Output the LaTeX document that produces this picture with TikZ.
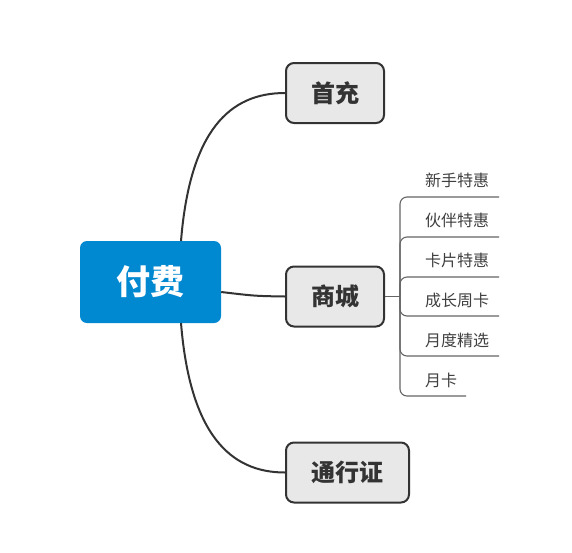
\documentclass[tikz,border=0pt]{standalone}
\usepackage{fontspec}
\newfontfamily\cjk{Noto Sans CJK SC}
\definecolor{rootblue}{RGB}{0,136,209}
\definecolor{nodegray}{RGB}{232,232,232}
\definecolor{edgedark}{RGB}{51,51,51}
\definecolor{subgray}{RGB}{64,64,64}
\definecolor{linegray}{RGB}{100,100,100}
\tikzset{
  rootbox/.style={fill=rootblue, rounded corners=7pt, minimum width=141pt, minimum height=82pt, text=white, font=\cjk\bfseries\fontsize{34}{38}\selectfont},
  mainbox/.style={fill=nodegray, draw=edgedark, line width=2pt, rounded corners=8pt, minimum height=60pt, text=edgedark, font=\cjk\bfseries\fontsize{24}{27}\selectfont},
  conn/.style={draw=edgedark, line width=2pt},
  subtext/.style={anchor=west, inner sep=0pt, text=subgray, font=\cjk\fontsize{16}{19}\selectfont},
  subline/.style={draw=linegray, line width=1.1pt, rounded corners=7pt},
}
\begin{document}
\begin{tikzpicture}[x=1pt,y=-1pt]
\useasboundingbox (0,0) rectangle (572,552);
\node[rootbox] (root) at (150.5,282) {付费};
\node[mainbox, minimum width=98pt] (first) at (335,93) {首充};
\node[mainbox, minimum width=98pt] (mall) at (335,296.5) {商城};
\node[mainbox, minimum width=123pt] (pass) at (347.5,472.5) {通行证};
% connectors
\coordinate (rt) at (181,241);
\coordinate (rb) at (181,323);
\draw[conn] (rt) .. controls (190,130) and (230,93) .. (first.west);
\draw[conn] (rb) .. controls (190,434) and (230,472.5) .. (pass.west);
\draw[conn] (root.east |- 0,292) .. controls (255,296) .. (mall.west);
% sub branches
\coordinate (j) at (400,296.5);
\draw[subline] (mall.east) -- (j);
\node[subtext] (s1) at (425,180) {新手特惠};
\node[subtext] (s2) at (425,220) {伙伴特惠};
\node[subtext] (s3) at (425,260) {卡片特惠};
\node[subtext] (s4) at (425,300) {成长周卡};
\node[subtext] (s5) at (425,340) {月度精选};
\node[subtext] (s6) at (425,380) {月卡};
\coordinate (e1) at (499,197);
\coordinate (e2) at (499,237);
\coordinate (e3) at (499,277);
\coordinate (e4) at (499,316);
\coordinate (e5) at (499,356);
\coordinate (e6) at (466,396);
\foreach \e in {e1,e2,e3,e4,e5,e6}{\draw[subline] (j) |- (\e);}
\end{tikzpicture}
\end{document}
